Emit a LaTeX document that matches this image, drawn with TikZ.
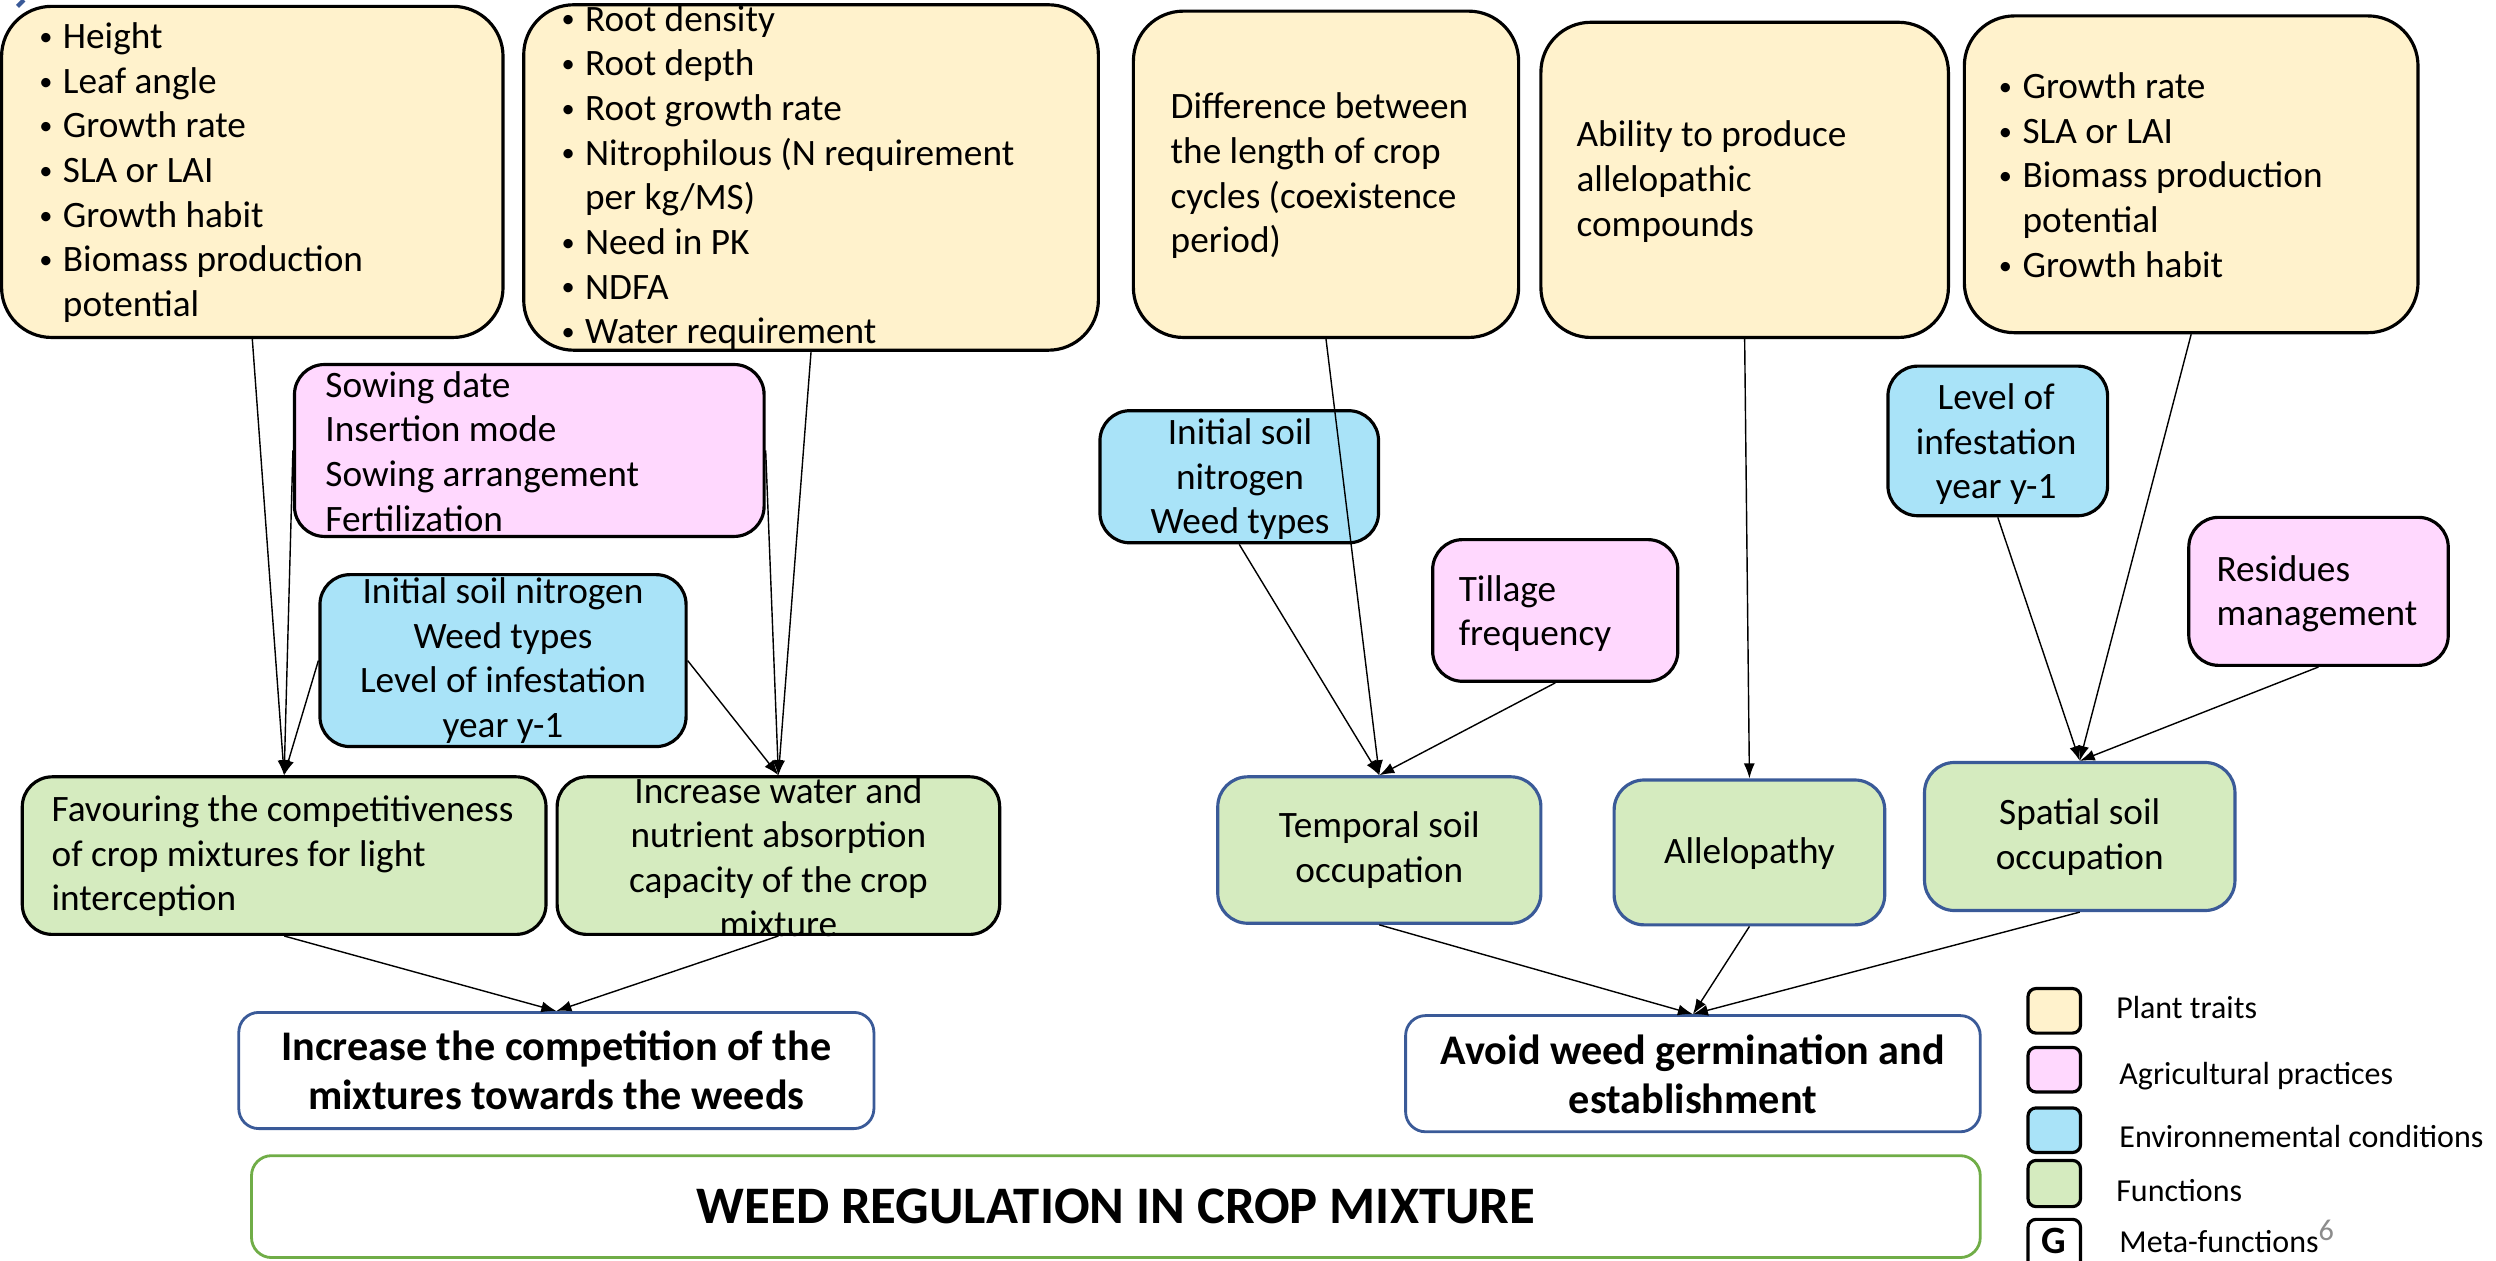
\documentclass[tikz,border=0pt]{standalone}
\usepackage{fontspec}
\setmainfont{Carlito}
\usetikzlibrary{arrows.meta,fit}
\definecolor{ylw}{HTML}{FFF2CC}
\definecolor{pnk}{HTML}{FFD8FE}
\definecolor{blu}{HTML}{A9E3F8}
\definecolor{grn}{HTML}{D5EBBF}
\definecolor{fblue}{HTML}{3A5A98}
\definecolor{tgreen}{HTML}{70AD47}
\definecolor{supgray}{HTML}{8C8C8C}
\newcommand\bl{\makebox[7.3pt][l]{\hspace{0.6pt}\raisebox{0.9pt}{\fontsize{7.5}{8}\selectfont\textbullet}}}
\newcommand\ind{\hspace*{7.3pt}}
\begin{document}
\begin{tikzpicture}[x=0.015918cm,y=-0.015918cm,
  box/.style={draw=black,line width=0.9pt,inner sep=0pt,rectangle},
  trait/.style={box,fill=ylw,rounded corners=0.5cm},
  prac/.style={box,fill=pnk,rounded corners=0.3cm},
  env/.style={box,fill=blu,rounded corners=0.3cm},
  func/.style={box,fill=grn,rounded corners=0.3cm},
  funcb/.style={func,draw=fblue},
  meta/.style={box,draw=fblue,line width=0.8pt,fill=white,rounded corners=0.2cm},
  leg/.style={box,rounded corners=0.08cm},
  txt/.style={inner sep=0pt,font=\fontsize{10.6}{12.7}\selectfont},
  mtxt/.style={inner sep=0pt,align=center,font=\bfseries\fontsize{12}{14}\selectfont},
  ltxt/.style={inner sep=0pt,anchor=base west,font=\fontsize{9.1}{11}\selectfont},
  arr/.style={-{Latex[length=1.5mm,width=1.1mm]},line width=0.4pt}]
\useasboundingbox (0,0) rectangle (1568,792);
\clip (0,0) rectangle (1568,792);
% tiny fragment
\draw[fblue,line width=1.2pt] (11,4) -- (15,0);
% plant traits
\node[trait,fit={(1,4) (316,212)}] (A) {};
\node[trait,fit={(329,3) (690,220)}] (B) {};
\node[trait,fit={(712,7) (954,212)}] (C) {};
\node[trait,fit={(968,14) (1224,212)}] (D) {};
\node[trait,fit={(1234,10) (1519,209)}] (E) {};
% practices
\node[prac,fit={(185,229) (480,337)}] (P) {};
\node[prac,fit={(900,339) (1054,428)}] (I) {};
\node[prac,fit={(1375,325) (1538,418)}] (K) {};
% environment
\node[env,fit={(201,361) (431,469)}] (G) {};
\node[env,fit={(691,258) (866,341)}] (H) {};
\node[env,fit={(1186,230) (1324,324)}] (J) {};
% functions
\node[func,fit={(14,488) (343,587)}] (F1) {};
\node[func,fit={(350,488) (628,587)}] (F2) {};
\node[funcb,fit={(765,488) (968,580)}] (F3) {};
\node[funcb,fit={(1014,490) (1184,581)}] (F4) {};
\node[funcb,fit={(1209,479) (1404,572)}] (F5) {};
% meta functions
\node[meta,fit={(150,636) (549,709)}] (M1) {};
\node[meta,fit={(883,638) (1244,711)}] (M2) {};
\node[meta,draw=tgreen,fit={(158,726) (1244,790)}] (T) {};
% texts
\node[txt,anchor=west,align=left] (At) at (23,108.5) {\bl Height\\ \bl Leaf angle\\ \bl Growth rate\\ \bl SLA or LAI\\ \bl Growth habit\\ \bl Biomass production\\ \ind potential};
\node[txt,anchor=west,align=left] (Bt) at (351,111.5) {\bl Root density\\ \bl Root depth\\ \bl Root growth rate\\ \bl Nitrophilous (N requirement\\ \ind per kg/MS)\\ \bl Need in PK\\ \bl NDFA\\ \bl Water requirement};
\node[txt,anchor=west,align=left] (Ct) at (735,110.5) {Difference between\\ the length of crop\\ cycles (coexistence\\ period)};
\node[txt,anchor=west,align=left] (Dt) at (990,114) {Ability to produce\\ allelopathic\\ compounds};
\node[txt,anchor=west,align=left] (Et) at (1254,110) {\bl Growth rate\\ \bl SLA or LAI\\ \bl Biomass production\\ \ind potential\\ \bl Growth habit};
\node[txt,anchor=west,align=left] (Pt) at (204,283.5) {Sowing date\\ Insertion mode\\ Sowing arrangement\\ Fertilization};
\node[txt,align=center] (Gt) at (316,415) {Initial soil nitrogen\\ Weed types\\ Level of infestation\\ year y-1};
\node[txt,align=center] (Ht) at (779,301) {Initial soil\\ nitrogen\\ Weed types};
\node[txt,anchor=west,align=left] (It) at (916,385.5) {Tillage\\ frequency};
\node[txt,align=center] (Jt) at (1254,279) {Level of\\ infestation\\ year y-1};
\node[txt,anchor=west,align=left] (Kt) at (1392,373) {Residues\\ management};
\node[txt,anchor=west,align=left] (F1t) at (32,538) {Favouring the competitiveness\\ of crop mixtures for light\\ interception};
\node[txt,align=center] (F2t) at (489,538.5) {Increase water and\\ nutrient absorption\\ capacity of the crop\\ mixture};
\node[txt,align=center] (F3t) at (866.5,534) {Temporal soil\\ occupation};
\node[txt,align=center] (F4t) at (1099,536) {Allelopathy};
\node[txt,align=center] (F5t) at (1306.5,526) {Spatial soil\\ occupation};
\node[mtxt] (M1t) at (349.5,672.5) {Increase the competition of the\\ mixtures towards the weeds};
\node[mtxt] (M2t) at (1063.5,675) {Avoid weed germination and\\ establishment};
\node[inner sep=0pt,font=\bfseries\fontsize{15}{18}\selectfont] (Tt) at (701,758) {WEED REGULATION IN CROP MIXTURE};
% connectors
\draw[arr] (A.south) -- (F1.north);
\draw[arr] (P.west) -- (F1.north);
\draw[arr] (G.west) -- (F1.north);
\draw[arr] (B.south) -- (F2.north);
\draw[arr] (P.east) -- (F2.north);
\draw[arr] (G.east) -- (F2.north);
\draw[arr] (C.south) -- (F3.north);
\draw[arr] (H.south) -- (F3.north);
\draw[arr] (I.south) -- (F3.north);
\draw[arr] (D.south) -- (F4.north);
\draw[arr] (J.south) -- (F5.north);
\draw[arr] (E.south) -- (F5.north);
\draw[arr] (K.south) -- (F5.north);
\draw[arr] (F1.south) -- (M1.north);
\draw[arr] (F2.south) -- (M1.north);
\draw[arr] (F3.south) -- (M2.north);
\draw[arr] (F4.south) -- (M2.north);
\draw[arr] (F5.south) -- (M2.north);
% legend
\node[leg,fill=ylw,fit={(1274,621) (1307,649)}] (L1) {};
\node[leg,fill=pnk,fit={(1274,658) (1307,686)}] (L2) {};
\node[leg,fill=blu,fit={(1274,696) (1307,724)}] (L3) {};
\node[leg,fill=grn,fit={(1274,729) (1307,758)}] (L4) {};
\node[leg,fill=white,fit={(1274,766) (1307,800)}] (L5) {};
\node[inner sep=0pt,font=\bfseries\fontsize{11}{13}\selectfont] (L5t) at (1290.5,779.5) {G};
\node[ltxt] (L1t) at (1329,640) {Plant traits};
\node[ltxt] (L2t) at (1331,681) {Agricultural practices};
\node[ltxt] (L3t) at (1331,721) {Environnemental conditions};
\node[ltxt] (L4t) at (1329,755) {Functions};
\node[ltxt] (L5l) at (1331,787) {Meta-functions\raisebox{3.6pt}{\color{supgray}\fontsize{8.6}{9}\selectfont 6}};
\end{tikzpicture}
\end{document}
